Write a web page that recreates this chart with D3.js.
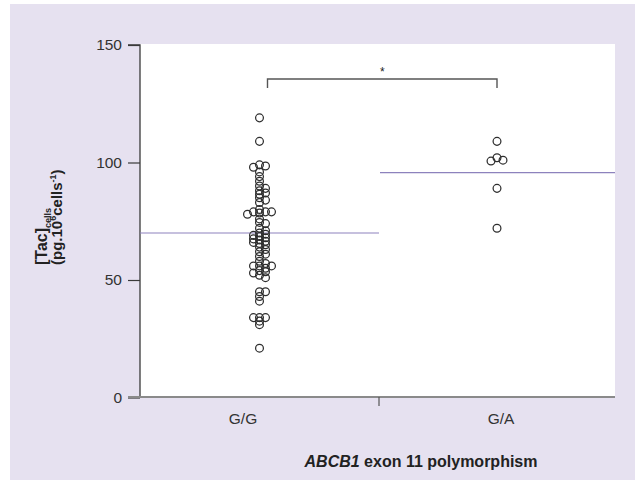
<!DOCTYPE html>
<html>
<head>
<meta charset="utf-8">
<script src="https://cdn.jsdelivr.net/npm/d3@7"></script>
<style>
  html, body { margin: 0; padding: 0; background: #ffffff; }
  svg { display: block; font-family: "Liberation Sans", Arial, Helvetica, sans-serif; }
</style>
</head>
<body>
<svg id="chart" width="635" height="481"></svg>
<script>
// Genotype groups on the x axis
const genotypes = ["G/G", "G/A"];

// Intracellular tacrolimus concentration per patient (pg/10^6 cells)
const valuesGG = [
  119, 109, 99, 98.5, 98, 96, 94, 92, 90, 89,
  88, 87, 86.5, 85, 84, 83, 80, 79, 79, 79,
  78.5, 78, 76, 74.5, 74, 72, 71, 70, 69.5, 69,
  68.5, 68, 67.5, 67, 66.5, 66, 65.5, 65, 64, 63,
  62, 61, 60, 58, 57, 56, 56, 56, 55, 54,
  53.5, 53, 52, 51, 45, 45, 43, 41, 34, 34,
  34, 32.5, 31, 21
];
const valuesGA = [109, 102, 101, 100.6, 89, 72];

// Group means drawn as horizontal lines
const groupMeans = [70, 95.7];

// Y axis ticks
const yTicks = [0, 50, 100, 150];

const svg = d3.select("#chart");

// Panel background
svg.append("rect")
  .attr("x", 10).attr("y", 4)
  .attr("width", 625).attr("height", 476)
  .attr("fill", "#e6e1f0");

const plot = { left: 140, right: 615, top: 44, bottom: 397 };

svg.append("rect")
  .attr("x", plot.left).attr("y", plot.top)
  .attr("width", plot.right - plot.left).attr("height", plot.bottom - plot.top)
  .attr("fill", "#ffffff");

const y = d3.scaleLinear().domain([0, 150]).range([397.5, 45]);
// Bands: G/G spans left edge to the middle tick, G/A spans middle tick to the right edge
const x = d3.scaleOrdinal().domain(genotypes).range([0, 1]);
const bandEdges = [plot.left, 379, plot.right];
const bandCenter = g => (bandEdges[x(g)] + bandEdges[x(g) + 1]) / 2;

// Y axis
const yAxis = d3.axisLeft(y).tickValues(yTicks).tickSize(12).tickPadding(6);
const gy = svg.append("g").attr("transform", `translate(${plot.left},0)`).call(yAxis);
gy.select(".domain").attr("stroke", "#3a3a3a").attr("stroke-width", 1.3)
  .attr("d", `M-12,${y(150)}H0V${y(0)}`);
gy.selectAll(".tick line").attr("stroke", "#3a3a3a").attr("stroke-width", 1.2);
gy.selectAll(".tick text").attr("fill", "#333").attr("font-size", 15.5)
  .attr("font-family", "Liberation Sans, Arial, sans-serif");

// X axis baseline with a separating tick between the genotypes
svg.append("line")
  .attr("x1", 128).attr("x2", plot.right)
  .attr("y1", 397).attr("y2", 397)
  .attr("stroke", "#8a8a8a").attr("stroke-width", 2);
svg.append("line")
  .attr("x1", 379).attr("x2", 379)
  .attr("y1", 397).attr("y2", 406)
  .attr("stroke", "#555").attr("stroke-width", 1.2);

const labelX = [243, 501];
svg.selectAll(".xlab").data(genotypes).enter().append("text")
  .attr("class", "xlab")
  .attr("x", d => labelX[x(d)]).attr("y", 424)
  .attr("text-anchor", "middle")
  .attr("font-size", 15.5).attr("fill", "#333")
  .text(d => d);

// X axis title
const xt = svg.append("text")
  .attr("x", 421).attr("y", 467)
  .attr("text-anchor", "middle")
  .attr("font-size", 16).attr("font-weight", "bold").attr("fill", "#222");
xt.append("tspan").attr("font-style", "italic").text("ABCB1");
xt.append("tspan").text(" exon 11 polymorphism");

// Y axis title (rotated, two lines)
const yt1 = svg.append("text")
  .attr("transform", "translate(47,265) rotate(-90)")
  .attr("font-size", 16).attr("font-weight", "bold").attr("fill", "#222");
yt1.append("tspan").text("[Tac]");
yt1.append("tspan").attr("font-size", 9).attr("dy", 4).text("cells");

const yt2 = svg.append("text")
  .attr("transform", "translate(62,265) rotate(-90)")
  .attr("font-size", 15).attr("font-weight", "bold").attr("fill", "#222");
yt2.append("tspan").text("(pg.10");
yt2.append("tspan").attr("font-size", 9).attr("dy", -6).text("6");
yt2.append("tspan").attr("dy", 6).text("cells");
yt2.append("tspan").attr("font-size", 9).attr("dy", -6).text("-1");
yt2.append("tspan").attr("dy", 6).text(")");

// Mean lines
groupMeans.forEach((m, i) => {
  svg.append("line")
    .attr("x1", bandEdges[i] + (i === 0 ? 0 : 1)).attr("x2", bandEdges[i + 1])
    .attr("y1", y(m)).attr("y2", y(m))
    .attr("stroke", "#8d82bd").attr("stroke-width", 1.2);
});

// Simple dodge layout so that coincident values sit side by side
function dodge(values, cx, minDist, step) {
  const placed = [];
  const sorted = values.slice().sort((a, b) => b - a);
  const offsets = [0];
  for (let j = 1; j < 8; j++) { offsets.push(j * step, -j * step); }
  sorted.forEach(v => {
    const py = y(v);
    let px = cx;
    for (let k = 0; k < offsets.length; k++) {
      px = cx + offsets[k];
      const clash = placed.some(p => Math.hypot(p.x - px, p.y - py) < minDist);
      if (!clash) break;
    }
    placed.push({ x: px, y: py, v });
  });
  return placed;
}

const groups = [valuesGG, valuesGA];
genotypes.forEach((g, i) => {
  const pts = dodge(groups[i], bandCenter(g), 3.4, 6);
  svg.append("g").selectAll("circle").data(pts).enter().append("circle")
    .attr("cx", d => d.x).attr("cy", d => d.y).attr("r", 3.9)
    .attr("fill", "none").attr("stroke", "#2e2e2e").attr("stroke-width", 1.25);
});

// Significance bracket
const bx1 = bandCenter("G/G") + 8, bx2 = bandCenter("G/A");
svg.append("path")
  .attr("d", `M${bx1},88V79H${bx2}V88`)
  .attr("fill", "none").attr("stroke", "#555").attr("stroke-width", 1.4);
svg.append("text")
  .attr("x", (bx1 + bx2) / 2).attr("y", 76)
  .attr("text-anchor", "middle").attr("font-size", 12).attr("fill", "#222")
  .text("*");
</script>
</body>
</html>
